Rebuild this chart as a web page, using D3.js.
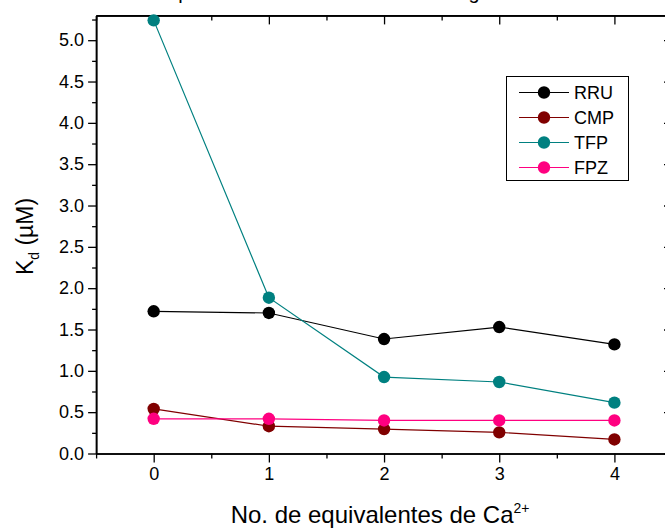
<!DOCTYPE html>
<html>
<head>
<meta charset="utf-8">
<script src="https://cdn.jsdelivr.net/npm/d3@7/dist/d3.min.js"></script>
<style>
  html, body { margin: 0; padding: 0; background: #fff; }
  svg { display: block; font-family: "Liberation Sans", Arial, Helvetica, sans-serif; }
  .axis path, .axis line { stroke: #000; }
  .axis text { fill: #000; }
</style>
</head>
<body>
<svg id="chart" width="665" height="531"></svg>
<script>
// Equivalents of Ca2+ added (x) and dissociation constants Kd in µM (y)
const equivalents = [0, 1, 2, 3, 4];
const seriesNames = ["RRU", "CMP", "TFP", "FPZ"];
const seriesColors = ["#000000", "#800000", "#008080", "#ff0080"];
const kdRRU = [1.72, 1.70, 1.385, 1.53, 1.32];
const kdCMP = [0.54, 0.33, 0.296, 0.256, 0.17];
const kdTFP = [5.24, 1.885, 0.925, 0.865, 0.615];
const kdFPZ = [0.42, 0.42, 0.40, 0.40, 0.40];
const xMajorTicks = [0, 1, 2, 3, 4];
const xMinorTicks = [-0.5, 0.5, 1.5, 2.5, 3.5, 4.5];
const yMajorTicks = [0.0, 0.5, 1.0, 1.5, 2.0, 2.5, 3.0, 3.5, 4.0, 4.5, 5.0];
const yMinorTicks = [0.25, 0.75, 1.25, 1.75, 2.25, 2.75, 3.25, 3.75, 4.25, 4.75, 5.25];
const xDomain = [-0.5, 4.5];
const yDomain = [0, 5.3];
const titleText = "Comparación de los valores de Kd según Ca";

const seriesValues = [kdRRU, kdCMP, kdTFP, kdFPZ];
const series = seriesNames.map((name, i) => ({
  name,
  color: seriesColors[i],
  points: equivalents.map((x, j) => ({ x, y: seriesValues[i][j] }))
}));

const svg = d3.select("#chart");
const plot = { left: 96.1, right: 672, top: 15.4, bottom: 453.5 };

const x = d3.scaleLinear().domain(xDomain).range([plot.left, plot.right]);
const y = d3.scaleLinear().domain(yDomain).range([plot.bottom, plot.top]);

// Chart title (sits above the frame, mostly outside the canvas)
svg.append("text")
  .attr("x", 136)
  .attr("y", -1)
  .attr("font-size", 20)
  .text(titleText);

// Axes: outward ticks on bottom/left, inward ticks on top/right
function styleAxis(g) {
  g.attr("class", "axis");
  g.select(".domain").attr("stroke-width", 1.6);
  g.selectAll(".tick line").attr("stroke-width", 1.3);
}

svg.append("g")
  .attr("transform", `translate(0,${plot.bottom})`)
  .call(d3.axisBottom(x).tickValues(xMinorTicks).tickSize(5).tickSizeOuter(0).tickFormat(""))
  .call(styleAxis);
svg.append("g")
  .attr("transform", `translate(0,${plot.bottom})`)
  .call(d3.axisBottom(x).tickValues(xMajorTicks).tickSize(9).tickSizeOuter(0).tickPadding(5).tickFormat(d3.format("d")))
  .call(styleAxis)
  .selectAll("text").attr("font-size", 18);

svg.append("g")
  .attr("transform", `translate(0,${plot.top})`)
  .call(d3.axisTop(x).tickValues(xMinorTicks).tickSize(-5).tickSizeOuter(0).tickFormat(""))
  .call(styleAxis);
svg.append("g")
  .attr("transform", `translate(0,${plot.top})`)
  .call(d3.axisTop(x).tickValues(xMajorTicks).tickSize(-9).tickSizeOuter(0).tickFormat(""))
  .call(styleAxis);

svg.append("g")
  .attr("transform", `translate(${plot.left},0)`)
  .call(d3.axisLeft(y).tickValues(yMinorTicks).tickSize(4).tickSizeOuter(0).tickFormat(""))
  .call(styleAxis);
svg.append("g")
  .attr("transform", `translate(${plot.left},0)`)
  .call(d3.axisLeft(y).tickValues(yMajorTicks).tickSize(8).tickSizeOuter(0).tickPadding(4).tickFormat(d3.format(".1f")))
  .call(styleAxis)
  .selectAll("text").attr("font-size", 18);

svg.append("g")
  .attr("transform", `translate(${plot.right},0)`)
  .call(d3.axisRight(y).tickValues(yMinorTicks).tickSize(-4).tickSizeOuter(0).tickFormat(""))
  .call(styleAxis);
svg.append("g")
  .attr("transform", `translate(${plot.right},0)`)
  .call(d3.axisRight(y).tickValues(yMajorTicks).tickSize(-8).tickSizeOuter(0).tickFormat(""))
  .call(styleAxis);

// Axis titles
const xTitle = svg.append("text")
  .attr("x", (plot.left + plot.right) / 2 - 4)
  .attr("y", 523)
  .attr("text-anchor", "middle")
  .attr("font-size", 24);
xTitle.append("tspan").text("No. de equivalentes de Ca");
xTitle.append("tspan").attr("dy", -10).attr("font-size", 14).text("2+");

const yTitle = svg.append("text")
  .attr("transform", `translate(33,${(plot.top + plot.bottom) / 2 + 2}) rotate(-90)`)
  .attr("text-anchor", "middle")
  .attr("font-size", 23);
yTitle.append("tspan").text("K");
yTitle.append("tspan").attr("dy", 6).attr("font-size", 14).text("d");
yTitle.append("tspan").attr("dy", -6).text(" (µM)");

// Series lines and markers
const line = d3.line().x(d => x(d.x)).y(d => y(d.y));
const seriesG = svg.append("g");
series.forEach(s => {
  seriesG.append("path")
    .datum(s.points)
    .attr("fill", "none")
    .attr("stroke", s.color)
    .attr("stroke-width", 1.2)
    .attr("d", line);
});
series.forEach(s => {
  seriesG.selectAll(null)
    .data(s.points)
    .enter().append("circle")
    .attr("cx", d => x(d.x))
    .attr("cy", d => y(d.y))
    .attr("r", 6.2)
    .attr("fill", s.color);
});

// Legend
const legend = svg.append("g");
legend.append("rect")
  .attr("x", 506.5).attr("y", 76.5)
  .attr("width", 122).attr("height", 104)
  .attr("fill", "#fff").attr("stroke", "#000").attr("stroke-width", 1);
series.forEach((s, i) => {
  const cy = 92.5 + i * 25;
  legend.append("line")
    .attr("x1", 519).attr("x2", 569)
    .attr("y1", cy).attr("y2", cy)
    .attr("stroke", s.color).attr("stroke-width", 1.2);
  legend.append("circle")
    .attr("cx", 544).attr("cy", cy).attr("r", 6.2).attr("fill", s.color);
  legend.append("text")
    .attr("x", 574).attr("y", cy + 6.5)
    .attr("font-size", 18)
    .text(s.name);
});
</script>
</body>
</html>
